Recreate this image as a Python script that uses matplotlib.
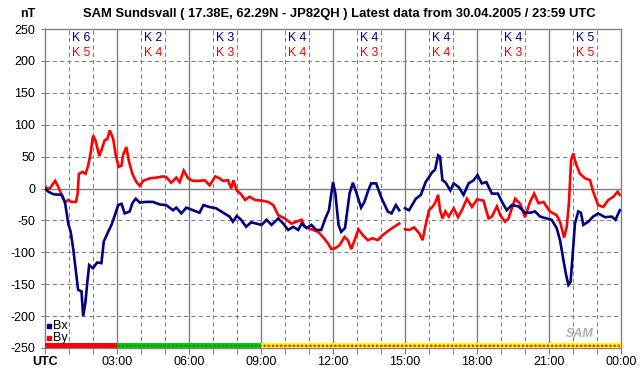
import numpy as np
import matplotlib
matplotlib.use('Agg')
from matplotlib import pyplot as plt

plt.rcParams['font.family'] = ['Liberation Sans', 'DejaVu Sans']

# Bx (navy) - hours UTC, nT ; NaN marks the data gap
bx_h = [0, 0.14, 0.35, 0.7, 0.83, 0.97, 1.07, 1.18, 1.29, 1.38, 1.52, 1.59, 1.68, 1.76, 1.84,
        2.0, 2.17, 2.35, 2.45, 2.63, 2.77, 2.91, 3.05, 3.19, 3.32, 3.53, 3.64, 3.78, 3.95,
        4.22, 4.5, 4.78, 5.05, 5.33, 5.47, 5.68, 5.89, 6.16, 6.44, 6.6, 6.85, 7.13, 7.34,
        7.69, 7.83, 7.99, 8.17, 8.38, 8.59, 8.8, 9.03, 9.23, 9.44, 9.72, 9.93, 10.13, 10.34,
        10.55, 10.69, 10.9, 11.1, 11.3, 11.51, 11.68, 11.83, 12.0, 12.1, 12.23, 12.34, 12.5,
        12.69, 12.83, 12.96, 13.17, 13.31, 13.45, 13.59, 13.8, 14.0, 14.28, 14.44, 14.62,
        14.76, 14.88, 15.0, 15.17, 15.45, 15.66, 15.86, 16.14, 16.25, 16.38, 16.46, 16.56,
        16.68, 16.89, 17.03, 17.24, 17.44, 17.65, 17.86, 18.02, 18.2, 18.39, 18.62, 18.87,
        19.04, 19.24, 19.45, 19.73, 20.0, 20.21, 20.42, 20.63, 20.9, 21.11, 21.32, 21.46,
        21.6, 21.71, 21.81, 21.9, 21.99, 22.08, 22.22, 22.33, 22.43, 22.64, 22.84, 23.05,
        23.33, 23.61, 23.77, 23.95]
bx_v = [0, -5, -9, -10, -21, -55, -68, -96, -130, -159, -161, -200, -180, -148, -120,
        -125, -116, -117, -83, -68, -57, -42, -26, -24, -39, -36, -23, -16, -22,
        -21, -21, -25, -26, -34, -30, -39, -30, -34, -38, -26, -29, -31, -36,
        -44, -52, -43, -49, -60, -53, -55, -57, -49, -57, -47, -55, -65, -60,
        -65, -55, -62, -57, -65, -65, -47, -34, 10, -8, -57, -68, -62,
        -8, 9, -5, -30, -21, -5, 8, 8, -13, -36, -39, -26,
        -34, np.nan, -31, -34, -16, -10, 10, 26, 29, 52, 50, 13,
        10, -3, 8, 2, -10, 8, 13, 21, 8, 10, -8, -8,
        -21, -34, -26, -28, -38, -38, -36, -44, -47, -49, -62, -81,
        -112, -135, -151, -146, -102, -55, -36, -38, -57, -52, -44, -39,
        -45, -44, -49, -34]

# By (red)
by_h = [0, 0.07, 0.2, 0.42, 0.55, 0.69, 0.83, 0.97, 1.1, 1.29, 1.36, 1.41, 1.57, 1.69, 1.8,
        1.9, 2.0, 2.1, 2.26, 2.38, 2.49, 2.59, 2.7, 2.84, 2.95, 3.07, 3.19, 3.25, 3.39, 3.5,
        3.64, 3.81, 3.95, 4.09, 4.36, 4.64, 4.92, 5.05, 5.26, 5.47, 5.61, 5.78, 5.96, 6.16,
        6.44, 6.65, 6.86, 7.1, 7.27, 7.41, 7.62, 7.76, 7.85, 7.99, 8.17, 8.34, 8.52, 8.75,
        9.03, 9.3, 9.51, 9.72, 9.99, 10.27, 10.48, 10.69, 10.82, 11.1, 11.38, 11.58, 11.79,
        11.93, 12.07, 12.27, 12.48, 12.62, 12.76, 12.9, 13.06, 13.24, 13.45, 13.65, 13.86,
        14.07, 14.35, 14.55, 14.76, 14.88, 15.0, 15.17, 15.38, 15.59, 15.73, 15.86, 16.0,
        16.14, 16.25, 16.38, 16.46, 16.56, 16.68, 16.82, 17.03, 17.21, 17.37, 17.58, 17.79,
        18.0, 18.27, 18.48, 18.62, 18.83, 18.97, 19.17, 19.31, 19.59, 19.8, 20.0, 20.21,
        20.38, 20.56, 20.77, 21.04, 21.32, 21.46, 21.63, 21.74, 21.83, 21.92, 22.01, 22.12,
        22.29, 22.5, 22.71, 22.84, 23.05, 23.26, 23.47, 23.68, 23.86, 23.95]
by_v = [5, 0, 0, 12, 3, -10, -22, -18, -21, -21, -8, 23, 26, 23, 36,
        55, 83, 76, 51, 63, 76, 77, 91, 78, 52, 34, 36, 52, 65, 42,
        23, 10, 4, 12, 16, 17, 19, 18, 9, 17, 10, 28, 16, 12,
        12, 13, 5, 19, 16, 12, 13, 0, 13, -3, -9, -18, -13, -18,
        -19, -21, -26, -42, -47, -55, -52, -49, -60, -64, -68, -76, -86,
        -95, -94, -89, -76, -81, -95, -81, -64, -73, -81, -78, -81,
        -73, -65, -60, -55, np.nan, -64, -65, -61, -70, -81, -57, -34,
        -29, -23, -10, -34, -47, -36, -44, -31, -45, -34, -16, -29,
        -17, -19, -47, -44, -28, -42, -52, -47, -16, -24, -45, -21,
        -8, -23, -21, -36, -42, -52, -77, -60, -23, 44, 55, 39,
        23, 16, 13, -5, -26, -29, -18, -13, -5, -10]

k_bx = [6, 2, 3, 4, 4, 4, 4, 5]
k_by = [5, 4, 3, 4, 3, 4, 3, 5]
x_labels = ['UTC', '03:00', '06:00', '09:00', '12:00', '15:00', '18:00', '21:00', '00:00']
# status bar: (start hour, end hour, colour, hatch colour)
status = [(0, 3, '#ff0000', None), (3, 9, '#00cc00', '#008800'), (9, 24, '#ffff00', '#ff0000')]

grey = '#808080'
navy = '#000080'

fig = plt.figure(figsize=(6.42, 3.76), dpi=100)
ax = fig.add_axes([45 / 642, 28 / 376, 576 / 642, 319 / 376])

ax.set_xlim(0, 24)
ax.set_ylim(-250, 250)

# grid
for h in range(1, 24):
    if h % 3 == 0:
        ax.axvline(h, color=grey, lw=1.0, zorder=1)
    else:
        ax.axvline(h, color=grey, lw=0.75, ls=(0, (4, 3)), zorder=1)
for v in range(-200, 251, 50):
    if v == 0:
        ax.axhline(v, color=grey, lw=1.0, zorder=1)
    elif v < 250:
        ax.axhline(v, color=grey, lw=0.75, ls=(0, (4, 3)), zorder=1)

ax.plot(bx_h, bx_v, color=navy, lw=1.9, zorder=3, solid_joinstyle='miter')
ax.plot(by_h, by_v, color='#ff0000', lw=1.9, zorder=2, solid_joinstyle='miter')

# status bar at the bottom
plt.rcParams['hatch.linewidth'] = 1.2
for x0, x1, fc, hc in status:
    if hc is None:
        ax.fill_between([x0, x1], -250, -242, facecolor=fc, edgecolor='none', zorder=4)
    else:
        ax.fill_between([x0, x1], -250, -242, facecolor=fc, edgecolor=hc, lw=0,
                        hatch='....', zorder=4)

# K indices
for i, (kb, kr) in enumerate(zip(k_bx, k_by)):
    xc = 3 * i + 1.5
    ax.text(xc, 236, 'K %d' % kb, color=navy, ha='center', va='center', fontsize=8.8, zorder=5)
    ax.text(xc, 212, 'K %d' % kr, color='#ff0000', ha='center', va='center', fontsize=8.8, zorder=5)

# legend
ax.plot([0.17], [-216], marker='s', ms=2.5, color=navy, ls='none', zorder=5)
ax.text(0.32, -216, 'Bx', ha='left', va='center', fontsize=9, zorder=5)
ax.plot([0.17], [-235], marker='s', ms=2.5, color='#ff0000', ls='none', zorder=5)
ax.text(0.32, -235, 'By', ha='left', va='center', fontsize=9, zorder=5)

# logo
ax.text(22.3, -228, 'SAM', color='#b0b0b0', fontsize=9, style='italic', fontweight='bold',
        ha='center', va='center', zorder=2)

# axes
ax.set_xticks(range(0, 25, 3))
ax.set_xticklabels(x_labels, fontsize=9)
ax.get_xticklabels()[0].set_fontweight('bold')
ax.set_xticks(range(0, 25), minor=True)
ax.set_yticks(range(-250, 251, 50))
ax.set_yticklabels([str(v) for v in range(-250, 251, 50)], fontsize=9)
ax.tick_params(axis='x', which='both', length=4, color=grey, pad=2)
ax.tick_params(axis='y', length=3, color=grey, pad=4)
for s in ax.spines.values():
    s.set_color(grey)
    s.set_linewidth(1.0)

fig.text(20 / 642, 1 - 14 / 376, 'nT', fontsize=9, fontweight='bold', ha='left', va='center')
fig.text(339 / 642, 1 - 14 / 376,
         'SAM Sundsvall ( 17.38E, 62.29N - JP82QH ) Latest data from 30.04.2005 / 23:59 UTC',
         fontsize=9.4, fontweight='bold', ha='center', va='center')

fig.savefig('out.png', dpi=100, facecolor='white')
